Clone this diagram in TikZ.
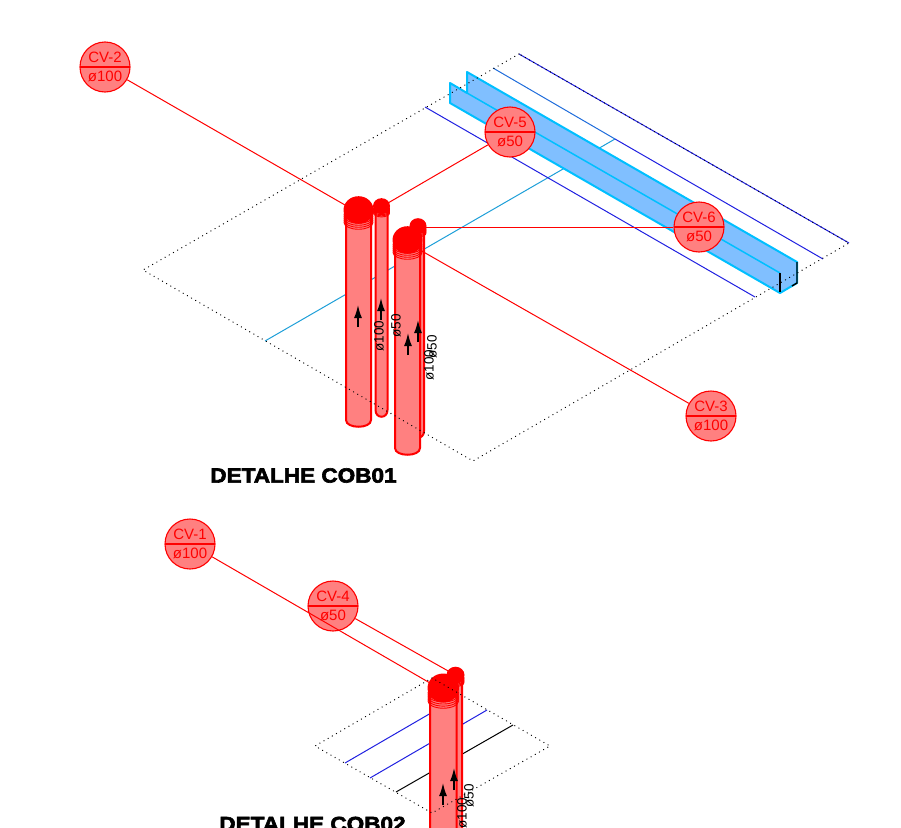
\documentclass[tikz,border=0pt]{standalone}
\usepackage{fontspec}
\setmainfont{Liberation Sans}
\newfontfamily\titulofont[BoldFeatures={FakeBold=3,FakeStretch=1.1}]{Liberation Sans}
\usetikzlibrary{arrows.meta}
\definecolor{tubofill}{HTML}{FF8080}
\definecolor{calhafill}{HTML}{80BFFF}
\definecolor{calhaline}{HTML}{00BFFF}
\definecolor{azul}{HTML}{2020E0}
\definecolor{ciano}{HTML}{1E9FD8}
\tikzset{
  cvtag/.style={circle,draw=red,fill=tubofill,line width=1.1pt,text=red,minimum size=50pt,inner sep=0pt,
    align=center,font=\fontsize{15}{18.5}\selectfont,
    path picture={\draw[red,line width=1.1pt] (path picture bounding box.west) -- (path picture bounding box.east);}},
  leader/.style={red,line width=1pt},
  divisa/.style={black,line width=1.2pt,line cap=round,dash pattern=on 0.2pt off 4.6pt},
  tubo/.style={draw=red,fill=tubofill,line width=2pt},
  seta/.style={-{Latex[length=13pt,width=8pt]},black,line width=1.6pt},
  diam/.style={black,rotate=90,font=\fontsize{13.5}{14}\selectfont,inner sep=0pt},
  titulo/.style={font=\titulofont\bfseries\fontsize{20.5}{24}\selectfont,inner sep=0pt},
}
% xl, xr, ytop, ybot, ycap
\newcommand{\tubo}[5]{%
  \draw[tubo] (#1,#3) -- (#1,#4) .. controls (#1,#4+9) and (#2,#4+9) .. (#2,#4) -- (#2,#3) -- cycle;
  \pgfmathsetmacro{\cx}{(#1+#2)/2}
  \pgfmathsetmacro{\rx}{(#2-#1)/2+2.5}
  \fill[red] (\cx,#5) circle[x radius=\rx,y radius=\rx*0.92];
  \foreach \k in {0,2,...,8}
    \draw[red,line width=0.9pt] (\cx,#5+\rx*0.3+\k*\rx/15) circle[x radius=\rx-0.5,y radius=\rx*0.45];
}
\begin{document}
\begin{tikzpicture}[x=1pt,y=-1pt]
\useasboundingbox (0,0) rectangle (901,827);
% DETALHE COB01
\draw[ciano,line width=1pt] (265,341) -- (615,139);
\draw[azul,line width=1pt] (519,54) -- (849,243);
\draw[ciano!60!azul,line width=1pt] (493,68) -- (615,139);
\draw[azul,line width=1pt] (615,139) -- (823,259);
\draw[azul,line width=1pt] (425,107) -- (755,297);
% calha
\draw[calhaline,fill=calhafill,line width=2pt,line join=round] (450,83) -- (467,93) -- (467,72) -- (797,262) -- (797,283) -- (780,293) -- (450,103) -- cycle;
\draw[calhaline,line width=1.5pt] (467,93) -- (780,273);
\draw[black,line width=1.4pt] (780,273) -- (780,292);
\draw[black,line width=1.4pt] (797,262) -- (797,283) -- (792,286);
% tubos
\tubo{346}{371}{215}{420}{210}
\tubo{375.5}{387.5}{210}{410}{206}
\tubo{412}{424}{232}{431}{226}
\tubo{395}{420}{245}{448}{240}
\draw[seta] (358,327) -- (358,305);
\draw[seta] (381,320) -- (381,298);
\draw[seta] (408,355) -- (408,333);
\draw[seta] (418,342) -- (418,320);
\node[diam] (d1) at (379,336) {ø100};
\node[diam] (d2) at (396,326) {ø50};
\node[diam] (d3) at (432,347) {ø50};
\node[diam] (d4) at (429,365) {ø100};
\draw[divisa] (519,54) -- (143,270) -- (473,461) -- (849,243) -- cycle;
% etiquetas
\coordinate (p2) at (345,205);
\coordinate (p5) at (388,203);
\coordinate (p6) at (425,227);
\coordinate (p3) at (420,250);
\node[cvtag] (cv2) at (105,67) {CV-2\\ø100};
\node[cvtag] (cv5) at (510,132) {CV-5\\ø50};
\node[cvtag] (cv6) at (699,227) {CV-6\\ø50};
\node[cvtag] (cv3) at (711,416) {CV-3\\ø100};
\draw[leader] (cv2) -- (p2);
\draw[leader] (cv5) -- (p5);
\draw[leader,line width=0.7pt] (cv6) -- (p6);
\draw[leader] (cv3) -- (p3);
\node[titulo] (cob1) at (303.5,475.5) {DETALHE COB01};
% DETALHE COB02
\draw[azul,line width=1pt] (345,763) -- (431,713);
\draw[azul,line width=1pt] (370,778) -- (487,710);
\draw[black,line width=1pt] (396,792) -- (513,725);
\tubo{449}{462}{680}{880}{675}
\tubo{430}{456.5}{695}{880}{688}
\draw[seta] (443,805) -- (443,783);
\draw[seta] (454,790) -- (454,768);
\node[diam] (d5) at (469,796) {ø50};
\node[diam] (d6) at (462,813) {ø100};
\draw[divisa] (432,678) -- (315,746) -- (432,813) -- (550,746) -- cycle;
\coordinate (p1) at (430,683);
\coordinate (p4) at (450,672);
\node[cvtag] (cv1) at (190,544) {CV-1\\ø100};
\node[cvtag] (cv4) at (333,606) {CV-4\\ø50};
\draw[leader] (cv1) -- (p1);
\draw[leader] (cv4) -- (p4);
\node[titulo] (cob2) at (312.5,824) {DETALHE COB02};
\end{tikzpicture}
\end{document}
